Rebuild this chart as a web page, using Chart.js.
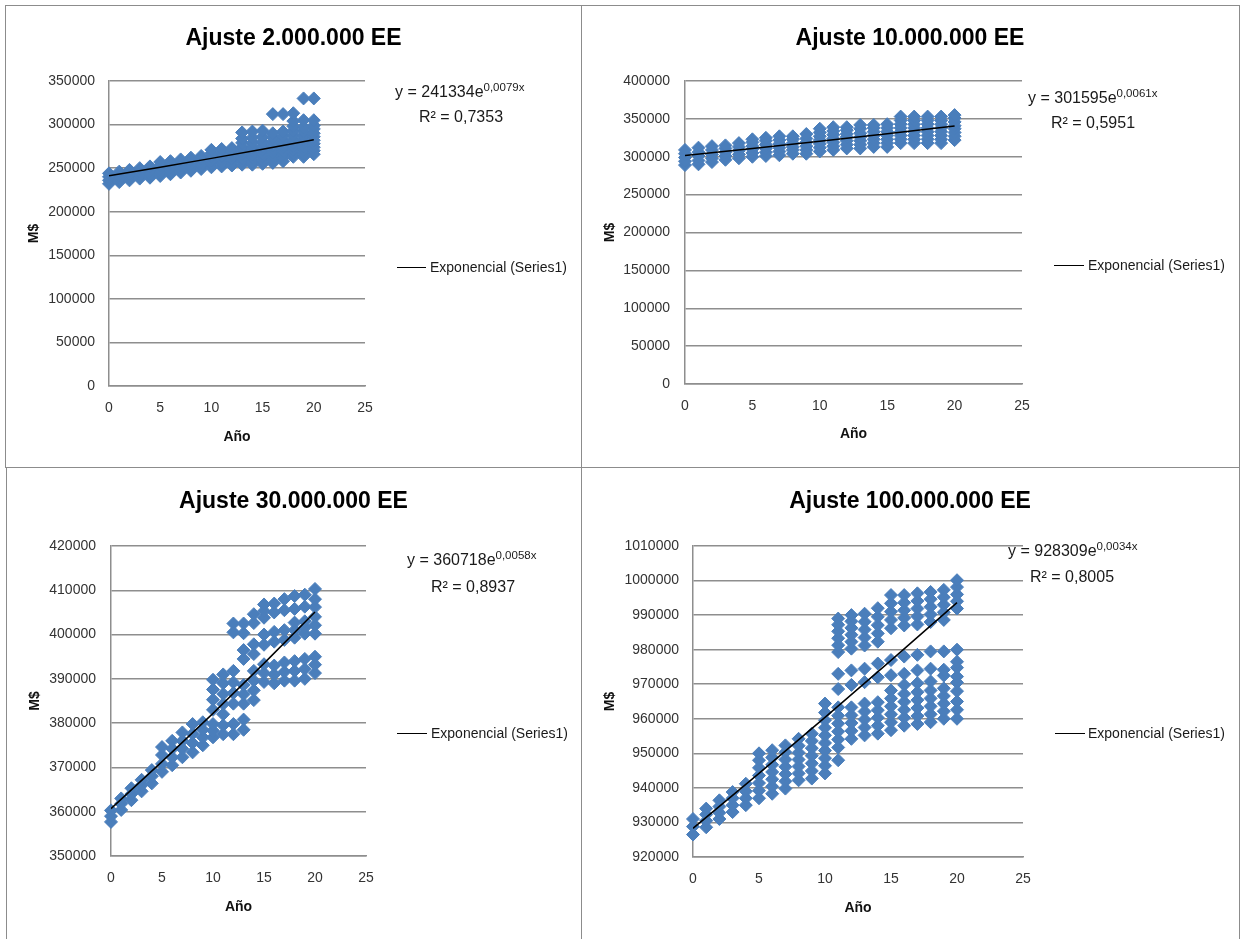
<!DOCTYPE html>
<html>
<head>
<meta charset="utf-8">
<script src="https://cdn.jsdelivr.net/npm/chart.js@4.4.0/dist/chart.umd.min.js"></script>
<style>
  html, body { margin: 0; padding: 0; background: #fff; }
  body { width: 1241px; height: 939px; position: relative; overflow: hidden;
         font-family: 'Liberation Sans', Arial, sans-serif; }
  canvas { position: absolute; }
  .frame { position: absolute; box-sizing: border-box; border: 1px solid #8c8c8c; pointer-events: none; }
  .txt { position: absolute; font-size: 16px; line-height: 20px; color: #1a1a1a; white-space: nowrap; }
  .txt sup { font-size: 11.5px; line-height: 0; vertical-align: 6px; }
  .legtxt { position: absolute; font-size: 14px; line-height: 20px; color: #1a1a1a; white-space: nowrap; }
  .leg { position: absolute; height: 0; border-top: 1.5px solid #000; }
</style>
</head>
<body>
<canvas id="c1" width="577" height="462" style="left:5px;top:5px"></canvas>
<canvas id="c2" width="658" height="462" style="left:581px;top:5px"></canvas>
<canvas id="c3" width="575" height="470" style="left:6px;top:467px"></canvas>
<canvas id="c4" width="658" height="470" style="left:581px;top:467px"></canvas>
<div class="frame" style="left:5px;top:5px;width:577px;height:463px"></div>
<div class="frame" style="left:581px;top:5px;width:659px;height:463px"></div>
<div class="frame" style="left:6px;top:467px;width:576px;height:474px"></div>
<div class="frame" style="left:581px;top:467px;width:659px;height:474px"></div>
<div id="overlay"></div>
<script>
// ---- data ----
const years = [0, 1, 2, 3, 4, 5, 6, 7, 8, 9, 10, 11, 12, 13, 14, 15, 16, 17, 18, 19, 20];
const trendYears = [0, 5, 10, 15, 20];

const titles = ['Ajuste 2.000.000 EE', 'Ajuste 10.000.000 EE', 'Ajuste 30.000.000 EE', 'Ajuste 100.000.000 EE'];
const fitA = ['241334', '301595', '360718', '928309'];
const fitB = ['0,0079', '0,0061', '0,0058', '0,0034'];
const fitR2 = ['0,7353', '0,5951', '0,8937', '0,8005'];
const trendLabel = 'Exponencial (Series1)';
const xTitle = 'Año';
const yTitle = 'M$';

// y values per year (index = year)
const values2M = [
  [232000, 236000, 240000, 244000],
  [234000, 238000, 242000, 246000],
  [236000, 240000, 244000, 248000],
  [238000, 242000, 246000, 250000],
  [239000, 243000, 247000, 252000],
  [241000, 245000, 249000, 253000, 257000],
  [243000, 247000, 251000, 255000, 258000],
  [245000, 249000, 253000, 257000, 260000],
  [247000, 251000, 255000, 259000, 262000],
  [249000, 253000, 257000, 261000, 264000],
  [251000, 255000, 259000, 263000, 267000, 271000],
  [252000, 256000, 260000, 264000, 268000, 272000],
  [253000, 257000, 261000, 265000, 269000, 273000],
  [254000, 258000, 262000, 266000, 270000, 274000, 279000, 284000, 291000],
  [254000, 258000, 262000, 266000, 270000, 274000, 279000, 285000, 292000],
  [255000, 259000, 263000, 267000, 271000, 275000, 280000, 286000, 293000],
  [256000, 260000, 264000, 268000, 272000, 276000, 280000, 285000, 290000, 312000],
  [258000, 262000, 266000, 270000, 274000, 278000, 282000, 287000, 292000, 312000],
  [263000, 267000, 271000, 275000, 279000, 283000, 288000, 293000, 298000, 304000, 313000],
  [263000, 267000, 271000, 275000, 279000, 283000, 287000, 292000, 297000, 305000, 330000],
  [266000, 270000, 274000, 278000, 282000, 286000, 290000, 295000, 299000, 305000, 330000]
];
const values10M = [
  [289000, 294000, 299000, 304000, 309000],
  [290000, 295000, 301000, 306000, 312000],
  [293000, 298000, 303000, 309000, 314000],
  [296000, 301000, 306000, 311000, 315000],
  [298000, 303000, 308000, 313000, 318000],
  [300000, 305000, 310000, 314000, 319000, 323000],
  [301000, 306000, 311000, 316000, 321000, 325000],
  [302000, 307000, 312000, 317000, 322000, 327000],
  [304000, 309000, 313000, 318000, 323000, 327000],
  [304000, 309000, 314000, 319000, 324000, 330000],
  [307000, 312000, 317000, 322000, 327000, 332000, 337000],
  [309000, 314000, 319000, 324000, 329000, 334000, 339000],
  [311000, 316000, 321000, 326000, 330000, 335000, 339000],
  [311000, 316000, 321000, 326000, 331000, 337000, 342000],
  [313000, 318000, 323000, 328000, 333000, 338000, 342000],
  [313000, 318000, 323000, 328000, 333000, 338000, 343000],
  [318000, 323000, 328000, 333000, 338000, 343000, 348000, 353000],
  [318000, 323000, 328000, 333000, 338000, 343000, 348000, 353000],
  [318000, 323000, 328000, 333000, 338000, 343000, 348000, 353000],
  [318000, 323000, 328000, 333000, 338000, 343000, 348000, 353000],
  [322000, 327000, 332000, 337000, 341000, 346000, 351000, 355000]
];
const values30M = [
  [357700, 359000, 360300],
  [360400, 361800, 363000],
  [362600, 364000, 365300],
  [364600, 366000, 367200],
  [366400, 368000, 369400],
  [369000, 370800, 372800, 374600],
  [370500, 372300, 374200, 376000],
  [372300, 374200, 376000, 377900],
  [373400, 375500, 377600, 379800],
  [375000, 376800, 378500, 380200],
  [376800, 378300, 379800, 383000, 385300, 387600, 389800],
  [377500, 379500, 382000, 384300, 386600, 389000, 391000],
  [377500, 379800, 384400, 386800, 389200, 391800, 400500, 402500],
  [378500, 380800, 384400, 386500, 388600, 394500, 396500, 400300, 402500],
  [385200, 387400, 389600, 391800, 395600, 397800, 402600, 404600],
  [389300, 391300, 393300, 397700, 400000, 403800, 405300, 406800],
  [389000, 391000, 393000, 398400, 400600, 405000, 407000],
  [389600, 391600, 393700, 398800, 401000, 405500, 408000],
  [389600, 391800, 394000, 399300, 401000, 402700, 405800, 408700],
  [390000, 392200, 394500, 400200, 401600, 403000, 406300, 409000],
  [391300, 393200, 395000, 400200, 402100, 404000, 406200, 408000, 410300]
];
const values100M = [
  [926500, 928800, 931000],
  [928600, 930500, 932300, 934000],
  [931000, 932800, 934600, 936400],
  [933000, 935000, 937000, 938800],
  [935000, 937000, 939000, 941200],
  [937000, 939200, 941400, 943600, 945800, 948000, 950000],
  [938300, 940400, 942500, 944600, 946700, 948800, 950900],
  [939800, 941900, 944000, 946100, 948200, 950300, 952300],
  [942200, 944200, 946200, 948200, 950200, 952200, 954200],
  [942700, 944900, 947100, 949300, 951500, 953600, 955700],
  [944200, 946400, 948600, 950800, 953000, 955200, 957400, 959600, 961800, 964400],
  [948000, 951700, 954000, 956300, 958600, 960900, 963300, 968600, 973000, 979300, 981300, 983300, 985300, 987200, 989000],
  [954200, 956500, 958800, 961000, 963300, 969800, 974000, 980300, 982300, 984300, 986300, 988200, 990000],
  [955200, 957500, 959800, 962100, 964400, 970600, 974500, 981200, 983500, 985800, 988100, 990400],
  [955700, 958000, 960300, 962500, 964800, 972000, 976000, 982300, 984700, 987100, 989500, 992000],
  [956700, 959000, 961300, 963600, 965900, 968200, 972600, 977000, 986200, 988600, 991000, 993400, 995800],
  [958000, 960300, 962600, 964900, 967200, 969800, 973000, 978000, 987000, 989200, 991400, 993600, 995800],
  [958500, 960800, 963100, 965400, 967700, 970300, 974000, 978500, 987300, 989600, 991900, 994100, 996300],
  [959000, 961300, 963600, 965900, 968200, 970800, 974500, 979500, 988000, 990200, 992400, 994600, 996700],
  [960000, 962200, 964400, 966600, 968800, 972500, 974200, 979500, 988600, 990800, 993000, 995200, 997300],
  [960000, 962600, 965000, 968000, 970500, 972200, 974800, 976500, 980000, 991900, 994000, 996000, 998100, 1000100]
];

// exponential trend line, read at x = 0, 5, 10, 15, 20
const trend2M = [241300, 251100, 261200, 271700, 282600];
const trend10M = [301600, 310900, 320600, 330500, 340700];
const trend30M = [360700, 371300, 382200, 393500, 405100];
const trend100M = [928300, 944200, 960400, 976900, 993600];

// y axis ranges [min, max, step]
const yRange2M = [0, 350000, 50000];
const yRange10M = [0, 400000, 50000];
const yRange30M = [350000, 420000, 10000];
const yRange100M = [920000, 1010000, 10000];

// ---- layout (canvas coords for plot area, page coords for side texts) ----
const panels = [
  {canvas: 'c1', values: values2M, trend: trend2M, yRange: yRange2M,
   W: 577, H: 462, left: 104, right: 360, top: 76, bottom: 381, titleY: 34, xTitleY: 432, yPad: 14,
   eq: [395, 82], r2: [419, 107], leg: [397, 267, 29], legText: [430, 257]},
  {canvas: 'c2', values: values10M, trend: trend10M, yRange: yRange10M,
   W: 658, H: 462, left: 104, right: 441, top: 76, bottom: 379, titleY: 34, xTitleY: 429, yPad: 15,
   eq: [1028, 88], r2: [1051, 113], leg: [1054, 265, 30], legText: [1088, 255]},
  {canvas: 'c3', values: values30M, trend: trend30M, yRange: yRange30M,
   W: 575, H: 470, left: 105, right: 360, top: 79, bottom: 389, titleY: 35, xTitleY: 440, yPad: 15,
   eq: [407, 550], r2: [431, 577], leg: [397, 733, 30], legText: [431, 723]},
  {canvas: 'c4', values: values100M, trend: trend100M, yRange: yRange100M,
   W: 658, H: 470, left: 112, right: 442, top: 79, bottom: 390, titleY: 35, xTitleY: 441, yPad: 14,
   eq: [1008, 541], r2: [1030, 567], leg: [1055, 733, 30], legText: [1088, 723]}
];

const FONT = "'Liberation Sans', Arial, sans-serif";
const BLUE = '#4a7ebb';
const GRID = '#8e8e8e';
const TITLE_SIZE = 23;
const TICK_SIZE = 14;

Chart.defaults.font.family = FONT;
Chart.defaults.color = '#333';

const overlay = document.getElementById('overlay');
function addText(html, x, y, cls) {
  const d = document.createElement('div');
  d.className = cls || 'txt';
  d.style.left = x + 'px';
  d.style.top = y + 'px';
  d.innerHTML = html;
  overlay.appendChild(d);
  return d;
}

panels.forEach((p, i) => {
  const pts = [];
  p.values.forEach((col, k) => col.forEach(v => pts.push({x: years[k], y: v})));
  const trendPts = trendYears.map((x, k) => ({x: x, y: p.trend[k]}));

  const titleLh = TITLE_SIZE * 1.2;
  const titleTop = p.titleY - titleLh / 2;
  const titleBottom = p.top - titleTop - titleLh;
  const axisLh = TICK_SIZE * 1.2;

  new Chart(document.getElementById(p.canvas), {
    type: 'scatter',
    data: {
      datasets: [
        {label: trendLabel, data: trendPts, showLine: true, borderColor: '#000', borderWidth: 1.5,
         pointRadius: 0, order: 0},
        {label: 'Series1', data: pts, pointStyle: 'rectRot', pointRadius: 6.5, clip: false,
         backgroundColor: BLUE, borderColor: BLUE, borderWidth: 1, order: 1}
      ]
    },
    options: {
      responsive: false,
      animation: false,
      devicePixelRatio: 1,
      layout: {padding: 0},
      plugins: {
        legend: {display: false},
        tooltip: {enabled: false},
        title: {
          display: true,
          text: titles[i],
          color: '#000',
          font: {size: TITLE_SIZE, weight: 'bold'},
          padding: {top: titleTop, bottom: titleBottom}
        }
      },
      scales: {
        x: {
          type: 'linear', min: 0, max: 25,
          grid: {display: false, drawTicks: false},
          border: {display: true, color: GRID, width: 1.5},
          ticks: {stepSize: 5, padding: 14, font: {size: TICK_SIZE}, color: '#333'},
          title: {display: true, text: xTitle, color: '#111', font: {size: 14, weight: 'bold'},
                  padding: {top: 0, bottom: p.H - p.xTitleY - axisLh / 2}},
          afterFit: s => { s.height = p.H - p.bottom; }
        },
        y: {
          min: p.yRange[0], max: p.yRange[1],
          grid: {color: GRID, lineWidth: 1.5, drawTicks: false},
          border: {display: true, color: GRID, width: 1.5},
          ticks: {stepSize: p.yRange[2], padding: p.yPad, font: {size: TICK_SIZE}, color: '#333',
                  callback: v => String(v)},
          title: {display: true, text: yTitle, color: '#111', font: {size: 14, weight: 'bold'},
                  padding: {top: 29 - axisLh / 2, bottom: 0}},
          afterFit: s => { s.width = p.left; }
        },
        side: {
          position: 'right',
          grid: {display: false},
          border: {display: false},
          ticks: {display: false},
          afterFit: s => { s.width = p.W - p.right; }
        }
      }
    }
  });

  addText('y = ' + fitA[i] + 'e<sup>' + fitB[i] + 'x</sup>', p.eq[0], p.eq[1]);
  addText('R² = ' + fitR2[i], p.r2[0], p.r2[1]);
  const line = addText('', p.leg[0], p.leg[1], 'leg');
  line.style.width = p.leg[2] + 'px';
  addText(trendLabel, p.legText[0], p.legText[1], 'legtxt');
});
</script>
</body>
</html>
